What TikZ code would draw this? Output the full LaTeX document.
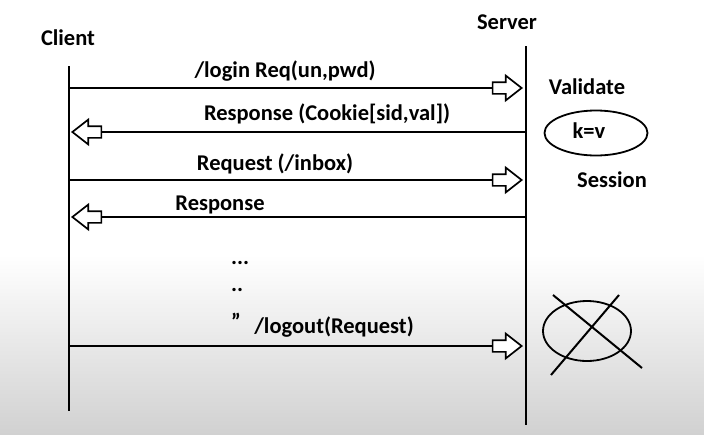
\documentclass[tikz,border=0pt]{standalone}
\usepackage{fontspec}
\setmainfont{Carlito}
\usetikzlibrary{shapes.arrows, shapes.geometric, positioning}

\begin{document}
\begin{tikzpicture}[x=1pt,y=-1pt,
            font=\bfseries\fontsize{22.5}{26}\selectfont,
            life/.style={line width=2.4pt},
            msg/.style={line width=2pt},
            head/.style={single arrow, draw, fill=white, line width=1.7pt,
                inner sep=0pt, inner ysep=5pt, minimum height=29pt,
                single arrow head extend=6.5pt, single arrow tip angle=76},
            lbl/.style={inner sep=0pt, anchor=base}]

            % background
            \fill[white] (0,0) rectangle (704,434);
            \shade[top color=white, bottom color=black!18] (0,255) rectangle (704,434);
            \useasboundingbox (0,0) rectangle (704,434);

            % lifelines
            \node[lbl] (C) at (68,45) {Client};
            \node[lbl] (S) at (507,29) {Server};
            \coordinate (ctop) at (69,66);
            \coordinate (cbot) at (69,411);
            \coordinate (stop) at (526,46);
            \coordinate (sbot) at (526,425);
            \draw[life] (ctop) -- (cbot);
            \draw[life] (stop) -- (sbot);

            % messages
            \node[head, anchor=tip] (h1) at (523,88) {};
            \node[head, anchor=tip, shape border rotate=180] (h2) at (71,132) {};
            \node[head, anchor=tip] (h3) at (523,180) {};
            \node[head, anchor=tip, shape border rotate=180] (h4) at (71,217) {};
            \node[head, anchor=tip] (h5) at (523,346) {};
            \coordinate (c1) at (69,88);
            \coordinate (s2) at (526,132);
            \coordinate (c3) at (69,180);
            \coordinate (s4) at (526,217);
            \coordinate (c5) at (69,346);
            \draw[msg] (c1) -- (h1.tail);
            \draw[msg] (s2) -- (h2.tail);
            \draw[msg] (c3) -- (h3.tail);
            \draw[msg] (s4) -- (h4.tail);
            \draw[msg] (c5) -- (h5.tail);

            \node[lbl] (m1) at (285,77) {/login Req(un,pwd)};
            \node[lbl] (m2) at (327,120) {Response (Cookie[sid,val])};
            \node[lbl] (m3) at (275,170) {Request (/inbox)};
            \node[lbl] (m4) at (220,210) {Response};
            \node[lbl, anchor=base west] (d1) at (231,264) {...};
            \node[lbl, anchor=base west] (d2) at (231,291) {..};
            \node[lbl, anchor=base west] (d3) at (231,329) {\symbol{"22}};
            \node[lbl] (m5) at (334,333) {/logout(Request)};

            % session
            \node[lbl] (V) at (587,94) {Validate};
            \node[ellipse, draw, line width=1.8pt, minimum width=103pt,
                minimum height=45pt] (E) at (596,133) {};
            \node[lbl] (kv) at (589,138) {k=v};
            \node[lbl] (Se) at (612,187) {Session};

            % session destroyed
            \node[ellipse, draw, line width=1.8pt, minimum width=88pt,
                minimum height=60pt] (X) at (587,331) {};
            \coordinate (x1) at (553,295);
            \coordinate (x2) at (642,368);
            \coordinate (x3) at (619,295);
            \coordinate (x4) at (551,375);
            \draw[msg] (x1) -- (x2);
            \draw[msg] (x3) -- (x4);
        \end{tikzpicture}
\end{document}
